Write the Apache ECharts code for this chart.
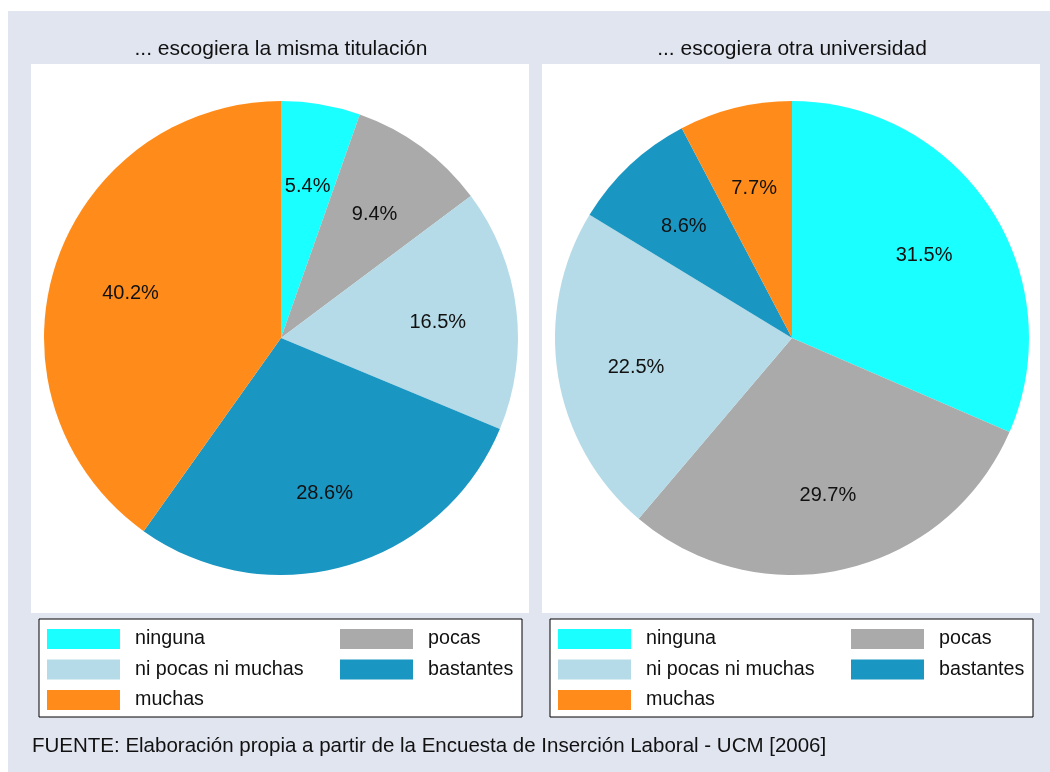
<!DOCTYPE html>
<html>
<head>
<meta charset="utf-8">
<script src="https://cdn.jsdelivr.net/npm/echarts@6/dist/echarts.min.js"></script>
<style>html,body{margin:0;padding:0;background:#fff}#c{width:1050px;height:772px}</style>
</head>
<body>
<div id="c"></div>
<script>
const categories = ['ninguna', 'pocas', 'ni pocas ni muchas', 'bastantes', 'muchas'];
const colors = ['#1affff', '#aaaaaa', '#b4dbe7', '#1a96c2', '#ff8c1a'];
const titles = ['... escogiera la misma titulación', '... escogiera otra universidad'];
const valuesMisma = [5.4, 9.4, 16.5, 28.6, 40.2];
const valuesOtra = [31.5, 29.7, 22.5, 8.6, 7.7];
const footer = 'FUENTE: Elaboración propia a partir de la Encuesta de Inserción Laboral - UCM [2006]';
const legendCol1 = ['ninguna', 'ni pocas ni muchas', 'muchas'];
const legendCol2 = ['pocas', 'bastantes'];

const FONT = '"Liberation Sans", Arial, sans-serif';
const R = 237;
const panels = [
  {x: 31, cx: 281, legendX: 39, sw1: 47, sw2: 340, values: valuesMisma, title: titles[0]},
  {x: 542, cx: 792, legendX: 550, sw1: 558, sw2: 851, values: valuesOtra, title: titles[1]}
];

const series = [];
const legends = [];
const graphics = [
  {type: 'rect', shape: {x: 8, y: 11, width: 1042, height: 761}, style: {fill: '#e1e5f0'}, z: -10}
];
const titleComps = [];

panels.forEach(function (p, k) {
  graphics.push({type: 'rect', shape: {x: p.x, y: 64, width: 498, height: 549}, style: {fill: '#ffffff'}, z: -9});
  graphics.push({type: 'rect', shape: {x: p.legendX, y: 619, width: 483, height: 98}, style: {fill: '#ffffff', stroke: '#000', lineWidth: 1}, z: -8});
  titleComps.push({
    text: p.title, left: p.cx, top: 39, textAlign: 'center', padding: 0,
    textStyle: {fontFamily: FONT, fontSize: 21, fontWeight: 'normal', color: '#111'}
  });
  const data = categories.map(function (c, i) {
    return {name: c, value: p.values[i], itemStyle: {color: colors[i]}};
  });
  series.push({
    type: 'pie', center: [p.cx, 338], radius: [0, R], startAngle: 90, clockwise: true,
    label: {show: false}, labelLine: {show: false}, emphasis: {disabled: true}, silent: true,
    animation: false, data: data
  });
  // transparent ring used only to place the percentage labels at ~2/3 of the radius
  series.push({
    type: 'pie', center: [p.cx, 342], radius: [73, R], startAngle: 90, clockwise: true,
    itemStyle: {color: 'rgba(0,0,0,0)'}, silent: true, emphasis: {disabled: true},
    label: {show: true, position: 'inside', formatter: '{c}%', fontFamily: FONT, fontSize: 20, color: '#111'},
    labelLine: {show: false}, animation: false,
    data: categories.map(function (c, i) { return {name: c, value: p.values[i]}; })
  });
  [[legendCol1, p.sw1], [legendCol2, p.sw2]].forEach(function (col) {
    legends.push({
      data: col[0], orient: 'vertical', left: col[1], top: 629, padding: 0,
      itemWidth: 73, itemHeight: 20, itemGap: 10.5, icon: 'rect',
      selectedMode: false,
      textStyle: {fontFamily: FONT, fontSize: 19.7, color: '#111', lineHeight: 20, padding: [0, 0, 0, 10]}
    });
  });
});

titleComps.push({
  text: footer, left: 32, top: 736, padding: 0,
  textStyle: {fontFamily: FONT, fontSize: 20.5, fontWeight: 'normal', color: '#111'}
});

const chart = echarts.init(document.getElementById('c'), null, {renderer: 'canvas'});
chart.setOption({
  backgroundColor: '#ffffff',
  animation: false,
  title: titleComps,
  legend: legends,
  graphic: graphics,
  series: series
});
</script>
</body>
</html>
